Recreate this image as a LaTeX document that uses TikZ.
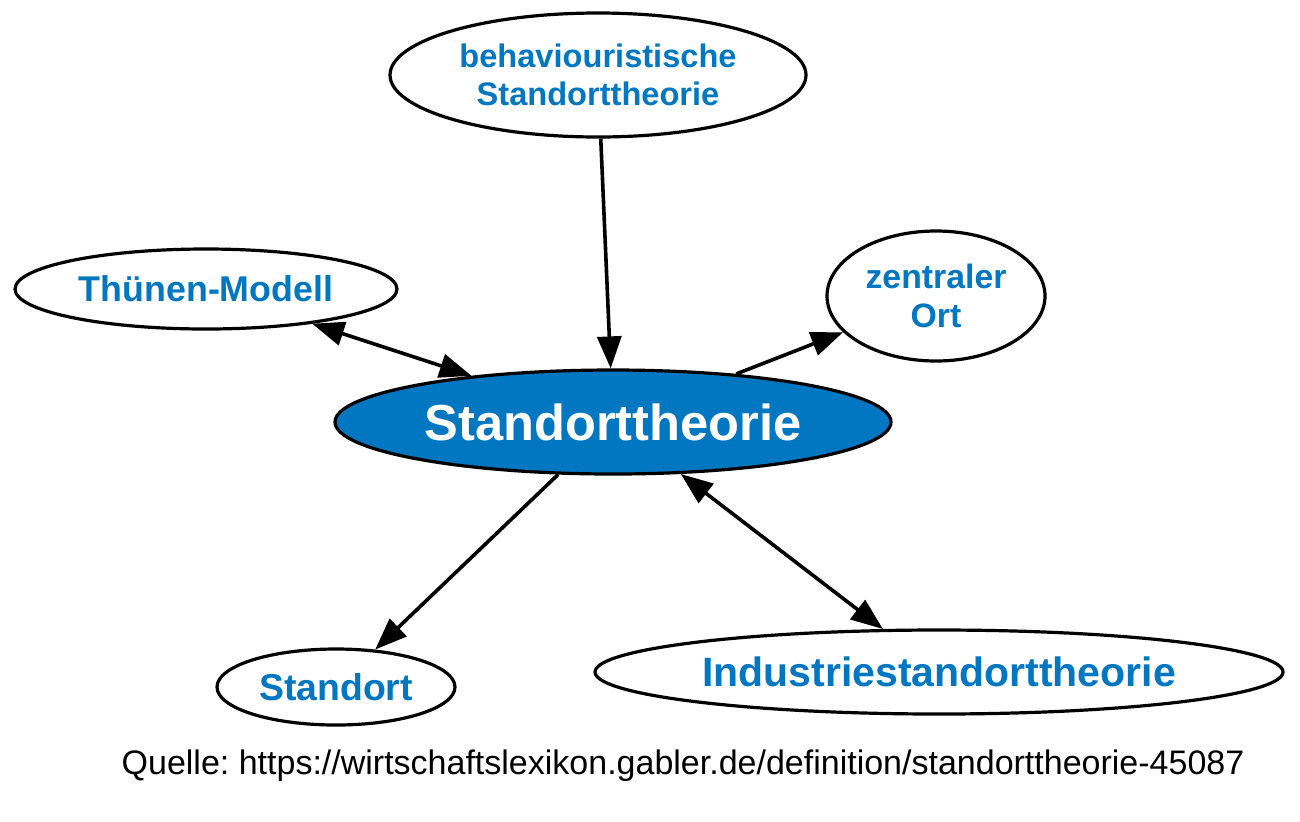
\documentclass[tikz,border=0pt]{standalone}
\usepackage{fontspec}
\setmainfont{Liberation Sans}
\usepackage{tikz}
\usetikzlibrary{arrows.meta}
\usetikzlibrary{shapes.geometric}
\definecolor{gablerblue}{RGB}{0,119,192}
\frenchspacing

\begin{document}
\begin{tikzpicture}[x=0.5pt,y=-0.5pt,
		term/.style={ellipse,draw=black,line width=1.6pt,fill=white,inner sep=0pt,
			text=gablerblue,font=\bfseries,align=center},
		link/.style={line width=1.8pt,-{Triangle[length=16pt,width=12pt]}},
		both/.style={line width=1.8pt,{Triangle[length=16pt,width=12pt]}-{Triangle[length=16pt,width=12pt]}}]
	\useasboundingbox (0,0) rectangle (1300,821);

	% zentrum

	\node[ellipse,draw=black,line width=1.6pt,fill=gablerblue,inner sep=0pt,
		minimum width=278pt,minimum height=52pt,text=white,
		font=\fontsize{25.3}{28}\bfseries\selectfont] (ST) at (613,422) {Standorttheorie};

	% begriffe

	\node[term,minimum width=208pt,minimum height=62pt,
		font=\fontsize{16.3}{19}\bfseries\selectfont] (BS) at (598,75) {behaviouristische\\Standorttheorie};
	\node[term,minimum width=191pt,minimum height=40pt,
		font=\fontsize{17.9}{20}\bfseries\selectfont] (TM) at (206,289) {Thünen-Modell};
	\node[term,minimum width=109pt,minimum height=65pt,
		font=\fontsize{16.9}{19.5}\bfseries\selectfont] (ZO) at (936,296) {zentraler\\Ort};
	\node[term,minimum width=119pt,minimum height=38pt,
		font=\fontsize{18.7}{21}\bfseries\selectfont] (SO) at (336,687) {Standort};
	\node[term,minimum width=344pt,minimum height=42pt,
		font=\fontsize{20.5}{23}\bfseries\selectfont] (IS) at (939,672) {Industriestandorttheorie};

	% kanten

	\draw[link] (BS) -- (ST);
	\draw[both] (TM) -- (ST);
	\draw[link] (ST) -- (ZO);
	\draw[link] (ST) -- (SO);
	\draw[both] (ST) -- (IS);

	\node[font=\fontsize{17}{20}\selectfont] (Q) at (683,766)
		{Quelle: https://wirtschaftslexikon.gabler.de/definition/standorttheorie-45087};
\end{tikzpicture}
\end{document}
